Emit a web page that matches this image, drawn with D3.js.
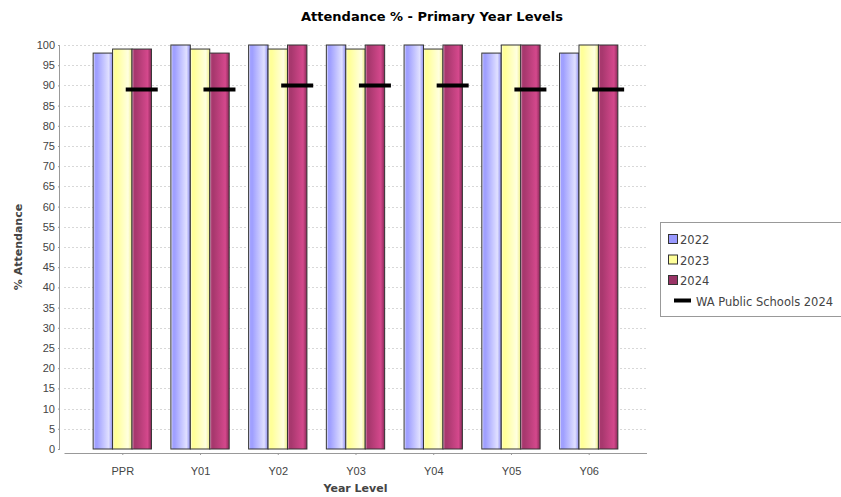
<!DOCTYPE html>
<html>
<head>
<meta charset="utf-8">
<script src="https://cdn.jsdelivr.net/npm/d3@7"></script>
<style>
  body { margin: 0; background: #fff; }
  svg { font-family: 'DejaVu Sans', sans-serif; }
  .tick text { fill: #444; font-size: 11px; }
</style>
</head>
<body>
<div id="chart"></div>
<script>
// chart data
const categories = ['PPR', 'Y01', 'Y02', 'Y03', 'Y04', 'Y05', 'Y06']
const seriesNames = ['2022', '2023', '2024']
const values2022 = [98, 100, 100, 100, 100, 98, 98]
const values2023 = [99, 99, 99, 99, 99, 100, 100]
const values2024 = [99, 98, 100, 100, 100, 100, 100]
const waPublic2024 = [89, 89, 90, 90, 90, 89, 89]
const yTicks = d3.range(0, 101, 5)

const totalWidth = 841
const totalHeight = 497
const margin = { top: 45, left: 64, right: 194, bottom: 48 }
const width = totalWidth - margin.left - margin.right
const height = totalHeight - margin.top - margin.bottom

const svg = d3
  .select('#chart')
  .append('svg')
  .attr('width', totalWidth)
  .attr('height', totalHeight)

const g = svg.append('g')
  .attr('transform', 'translate(' + margin.left + ',' + margin.top + ')')

// gradient bar painter look, one per series
const colors = [
  { base: '#a0a0ff', light: '#e0e0ff', edge: '#ffffff', dark: '#8c8cf0', key: '#9999ff' },
  { base: '#ffff99', light: '#ffffe0', edge: '#ffffff', dark: '#eeee88', key: '#ffff99' },
  { base: '#a8386e', light: '#d4488c', edge: '#f0c0d8', dark: '#8a2a58', key: '#993366' }
]
const defs = svg.append('defs')
colors.forEach(function(c, i) {
  const grad = defs.append('linearGradient')
    .attr('id', 'grad' + i)
    .attr('x1', 0).attr('x2', 1).attr('y1', 0).attr('y2', 0)
  const stops = [[0, c.edge], [0.1, c.base], [0.2, c.base], [0.8, c.light], [1, c.dark]]
  stops.forEach(s => grad.append('stop').attr('offset', s[0]).attr('stop-color', s[1]))
})

// scales: JFreeChart style margins (5% each side, 20% between categories)
const n = categories.length
const catWidth = width * 0.7 / n
const xScale = d3.scalePoint()
  .domain(categories)
  .range([width * 0.05 + catWidth / 2, width * 0.95 - catWidth / 2])
const xSub = d3.scaleBand()
  .domain(seriesNames)
  .range([-catWidth / 2, catWidth / 2])
  .padding(0)
const yScale = d3.scaleLinear().domain([0, 100]).range([height, 0])

// gridlines
g.append('g')
  .selectAll('line')
  .data(yTicks.filter(d => d > 0))
  .enter()
  .append('line')
  .attr('x1', 0)
  .attr('x2', width)
  .attr('y1', d => Math.round(yScale(d)) + 0.5)
  .attr('y2', d => Math.round(yScale(d)) + 0.5)
  .attr('stroke', '#d8d8d8')
  .attr('stroke-width', 1)
  .attr('stroke-dasharray', '2,2')

// bars
const seriesValues = [values2022, values2023, values2024]
const barData = []
categories.forEach(function(cat, ci) {
  seriesNames.forEach(function(s, si) {
    barData.push({ cat: cat, series: s, si: si, value: seriesValues[si][ci] })
  })
})

g.selectAll('.bar')
  .data(barData)
  .enter()
  .append('rect')
  .attr('class', 'bar')
  .attr('x', d => xScale(d.cat) + xSub(d.series))
  .attr('width', xSub.bandwidth())
  .attr('y', d => yScale(d.value))
  .attr('height', d => height - yScale(d.value))
  .attr('fill', d => 'url(#grad' + d.si + ')')
  .attr('stroke', '#333')
  .attr('stroke-width', 1)

// WA public schools markers, centred on the 2024 bar
g.selectAll('.wa')
  .data(waPublic2024)
  .enter()
  .append('line')
  .attr('class', 'wa')
  .attr('x1', (d, i) => xScale(categories[i]) + xSub('2024') + xSub.bandwidth() / 2 - 16)
  .attr('x2', (d, i) => xScale(categories[i]) + xSub('2024') + xSub.bandwidth() / 2 + 16)
  .attr('y1', d => yScale(d))
  .attr('y2', d => yScale(d))
  .attr('stroke', '#000')
  .attr('stroke-width', 4)

// axes
const yAxis = d3.axisLeft(yScale).tickValues(yTicks).tickSize(2).tickPadding(3)
g.append('g')
  .attr('class', 'axis y-axis')
  .attr('transform', 'translate(-4,0)')
  .call(yAxis)

const xAxis = d3.axisBottom(xScale).tickSize(2).tickPadding(12)
g.append('g')
  .attr('class', 'axis x-axis')
  .attr('transform', 'translate(0,' + (height + 4) + ')')
  .call(xAxis)

svg.selectAll('.axis path.domain').attr('stroke', '#999')
svg.selectAll('.axis .tick line').attr('stroke', '#999')
svg.selectAll('.x-axis path.domain').attr('d', 'M0.5,0.5H' + width)
svg.selectAll('.y-axis path.domain').attr('d', 'M-0.5,0V' + height)

// title and axis labels
svg.append('text')
  .attr('x', 432)
  .attr('y', 21)
  .attr('text-anchor', 'middle')
  .attr('font-weight', 'bold')
  .attr('font-size', 13)
  .attr('fill', '#000')
  .text('Attendance % - Primary Year Levels')

svg.append('text')
  .attr('x', margin.left + width / 2)
  .attr('y', 492)
  .attr('text-anchor', 'middle')
  .attr('font-weight', 'bold')
  .attr('font-size', 11)
  .attr('fill', '#444')
  .text('Year Level')

svg.append('text')
  .attr('transform', 'translate(22,' + (margin.top + height / 2) + ') rotate(-90)')
  .attr('text-anchor', 'middle')
  .attr('font-weight', 'bold')
  .attr('font-size', 11)
  .attr('fill', '#444')
  .text('% Attendance')

// legend
const legend = svg.append('g').attr('transform', 'translate(660,222)')
legend.append('rect')
  .attr('x', 0.5).attr('y', 0.5)
  .attr('width', 181).attr('height', 94)
  .attr('fill', '#fff')
  .attr('stroke', '#999')

const legendItems = legend.selectAll('.item')
  .data(seriesNames)
  .enter()
  .append('g')
  .attr('transform', (d, i) => 'translate(0,' + (18 + i * 20.5) + ')')
legendItems.append('rect')
  .attr('x', 8.5).attr('y', -5.5)
  .attr('width', 9).attr('height', 9)
  .attr('fill', (d, i) => colors[i].key)
  .attr('stroke', '#333')
legendItems.append('text')
  .attr('x', 20)
  .attr('y', 4)
  .attr('font-size', 11.5)
  .attr('fill', '#444')
  .text(d => d)

const waItem = legend.append('g').attr('transform', 'translate(0,' + (18 + 3 * 20.5) + ')')
waItem.append('line')
  .attr('x1', 14).attr('x2', 31)
  .attr('y1', -1).attr('y2', -1)
  .attr('stroke', '#000').attr('stroke-width', 4)
waItem.append('text')
  .attr('x', 36)
  .attr('y', 4)
  .attr('font-size', 11.5)
  .attr('fill', '#444')
  .text('WA Public Schools 2024')
</script>
</body>
</html>
